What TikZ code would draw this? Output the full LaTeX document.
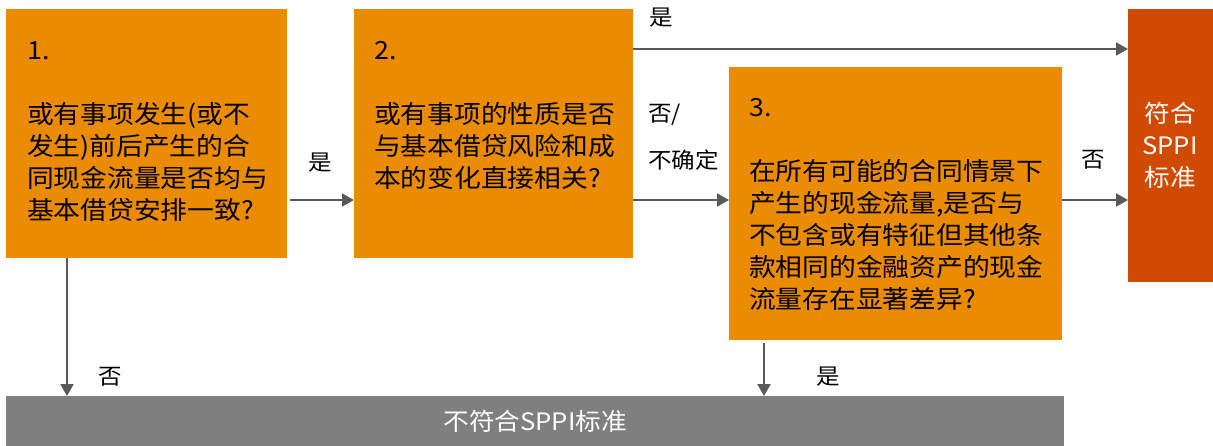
\documentclass[tikz,border=0pt]{standalone}
\usepackage{fontspec}
\setmainfont{Noto Sans CJK SC}[FakeStretch=1.07]
\usetikzlibrary{arrows.meta,calc}
\definecolor{boxorange}{HTML}{EA8B00}
\definecolor{boxred}{HTML}{D04A02}
\definecolor{bargray}{HTML}{7F7F7F}
\definecolor{arrgray}{HTML}{595959}
\tikzset{
  qbox/.style={draw=none,fill=boxorange,rectangle,anchor=north west,inner sep=0pt},
  qtext/.style={anchor=north west,inner sep=0pt,align=left,font=\fontsize{25pt}{32pt}\selectfont},
  lbl/.style={inner sep=0pt,font=\fontsize{22pt}{26pt}\selectfont},
  arr/.style={draw=arrgray,line width=2pt,-{Triangle[length=12pt,width=13pt]}}
}
\begin{document}
\begin{tikzpicture}[x=1pt,y=-1pt]
\useasboundingbox (0,0) rectangle (1213,446);
% boxes
\node[qbox,minimum width=281pt,minimum height=249pt] (b1) at (6,9) {};
\node[qbox,minimum width=279pt,minimum height=249pt] (b2) at (354,9) {};
\node[qbox,minimum width=333pt,minimum height=273pt] (b3) at (729,67) {};
\node[qbox,fill=boxred,minimum width=86pt,minimum height=273pt] (ok) at (1128,9) {};
\node[qbox,fill=bargray,minimum width=1058pt,minimum height=50pt] (no) at (6,396) {};
% texts
\node[qtext] (t1) at (27,41) {1.\\[32pt]或有事项发生(或不\\发生)前后产生的合\\同现金流量是否均与\\基本借贷安排一致?};
\node[qtext] (t2) at (374,41) {2.\\[32pt]或有事项的性质是否\\与基本借贷风险和成\\本的变化直接相关?};
\node[qtext] (t3) at (749,98) {3.\\[32pt]在所有可能的合同情景下\\产生的现金流量,是否与\\不包含或有特征但其他条\\款相同的金融资产的现金\\流量存在显著差异?};
\node[align=center,inner sep=0pt,text=white,font=\fontsize{24pt}{32pt}\selectfont] (tok) at (1170,145) {符合\\SPPI\\标准};
\node[inner sep=0pt,text=white,font=\fontsize{24pt}{30pt}\selectfont] (tno) at (no.center) {不符合SPPI标准};
% connectors
\coordinate (p) at ([yshift=-191pt]b2.north east);
\coordinate (q) at ([yshift=-40pt]b2.north east);
\coordinate (r) at ([xshift=61pt]b1.south west);
\coordinate (s) at ([xshift=35pt,yshift=-3pt]b3.south west);
\draw[arr] ([xshift=3pt]p -| b1.east) -- (p -| b2.west);
\draw[arr] (q) -- (q -| ok.west);
\draw[arr] (p) -- (p -| b3.west);
\draw[arr] (p -| b3.east) -- (p -| ok.west);
\draw[arr] (r) -- (r |- no.north);
\draw[arr] (s) -- (s |- no.north);
% labels
\node[lbl] (l1) at (320,163) {是};
\node[lbl] (l2) at (661,18) {是};
\node[lbl,anchor=west] (l3) at (648,115) {否/};
\node[lbl,anchor=west] (l4) at (648,160) {不确定};
\node[lbl] (l5) at (1093,160) {否};
\node[lbl] (l6) at (110,377) {否};
\node[lbl] (l7) at (828,377) {是};
\end{tikzpicture}
\end{document}
